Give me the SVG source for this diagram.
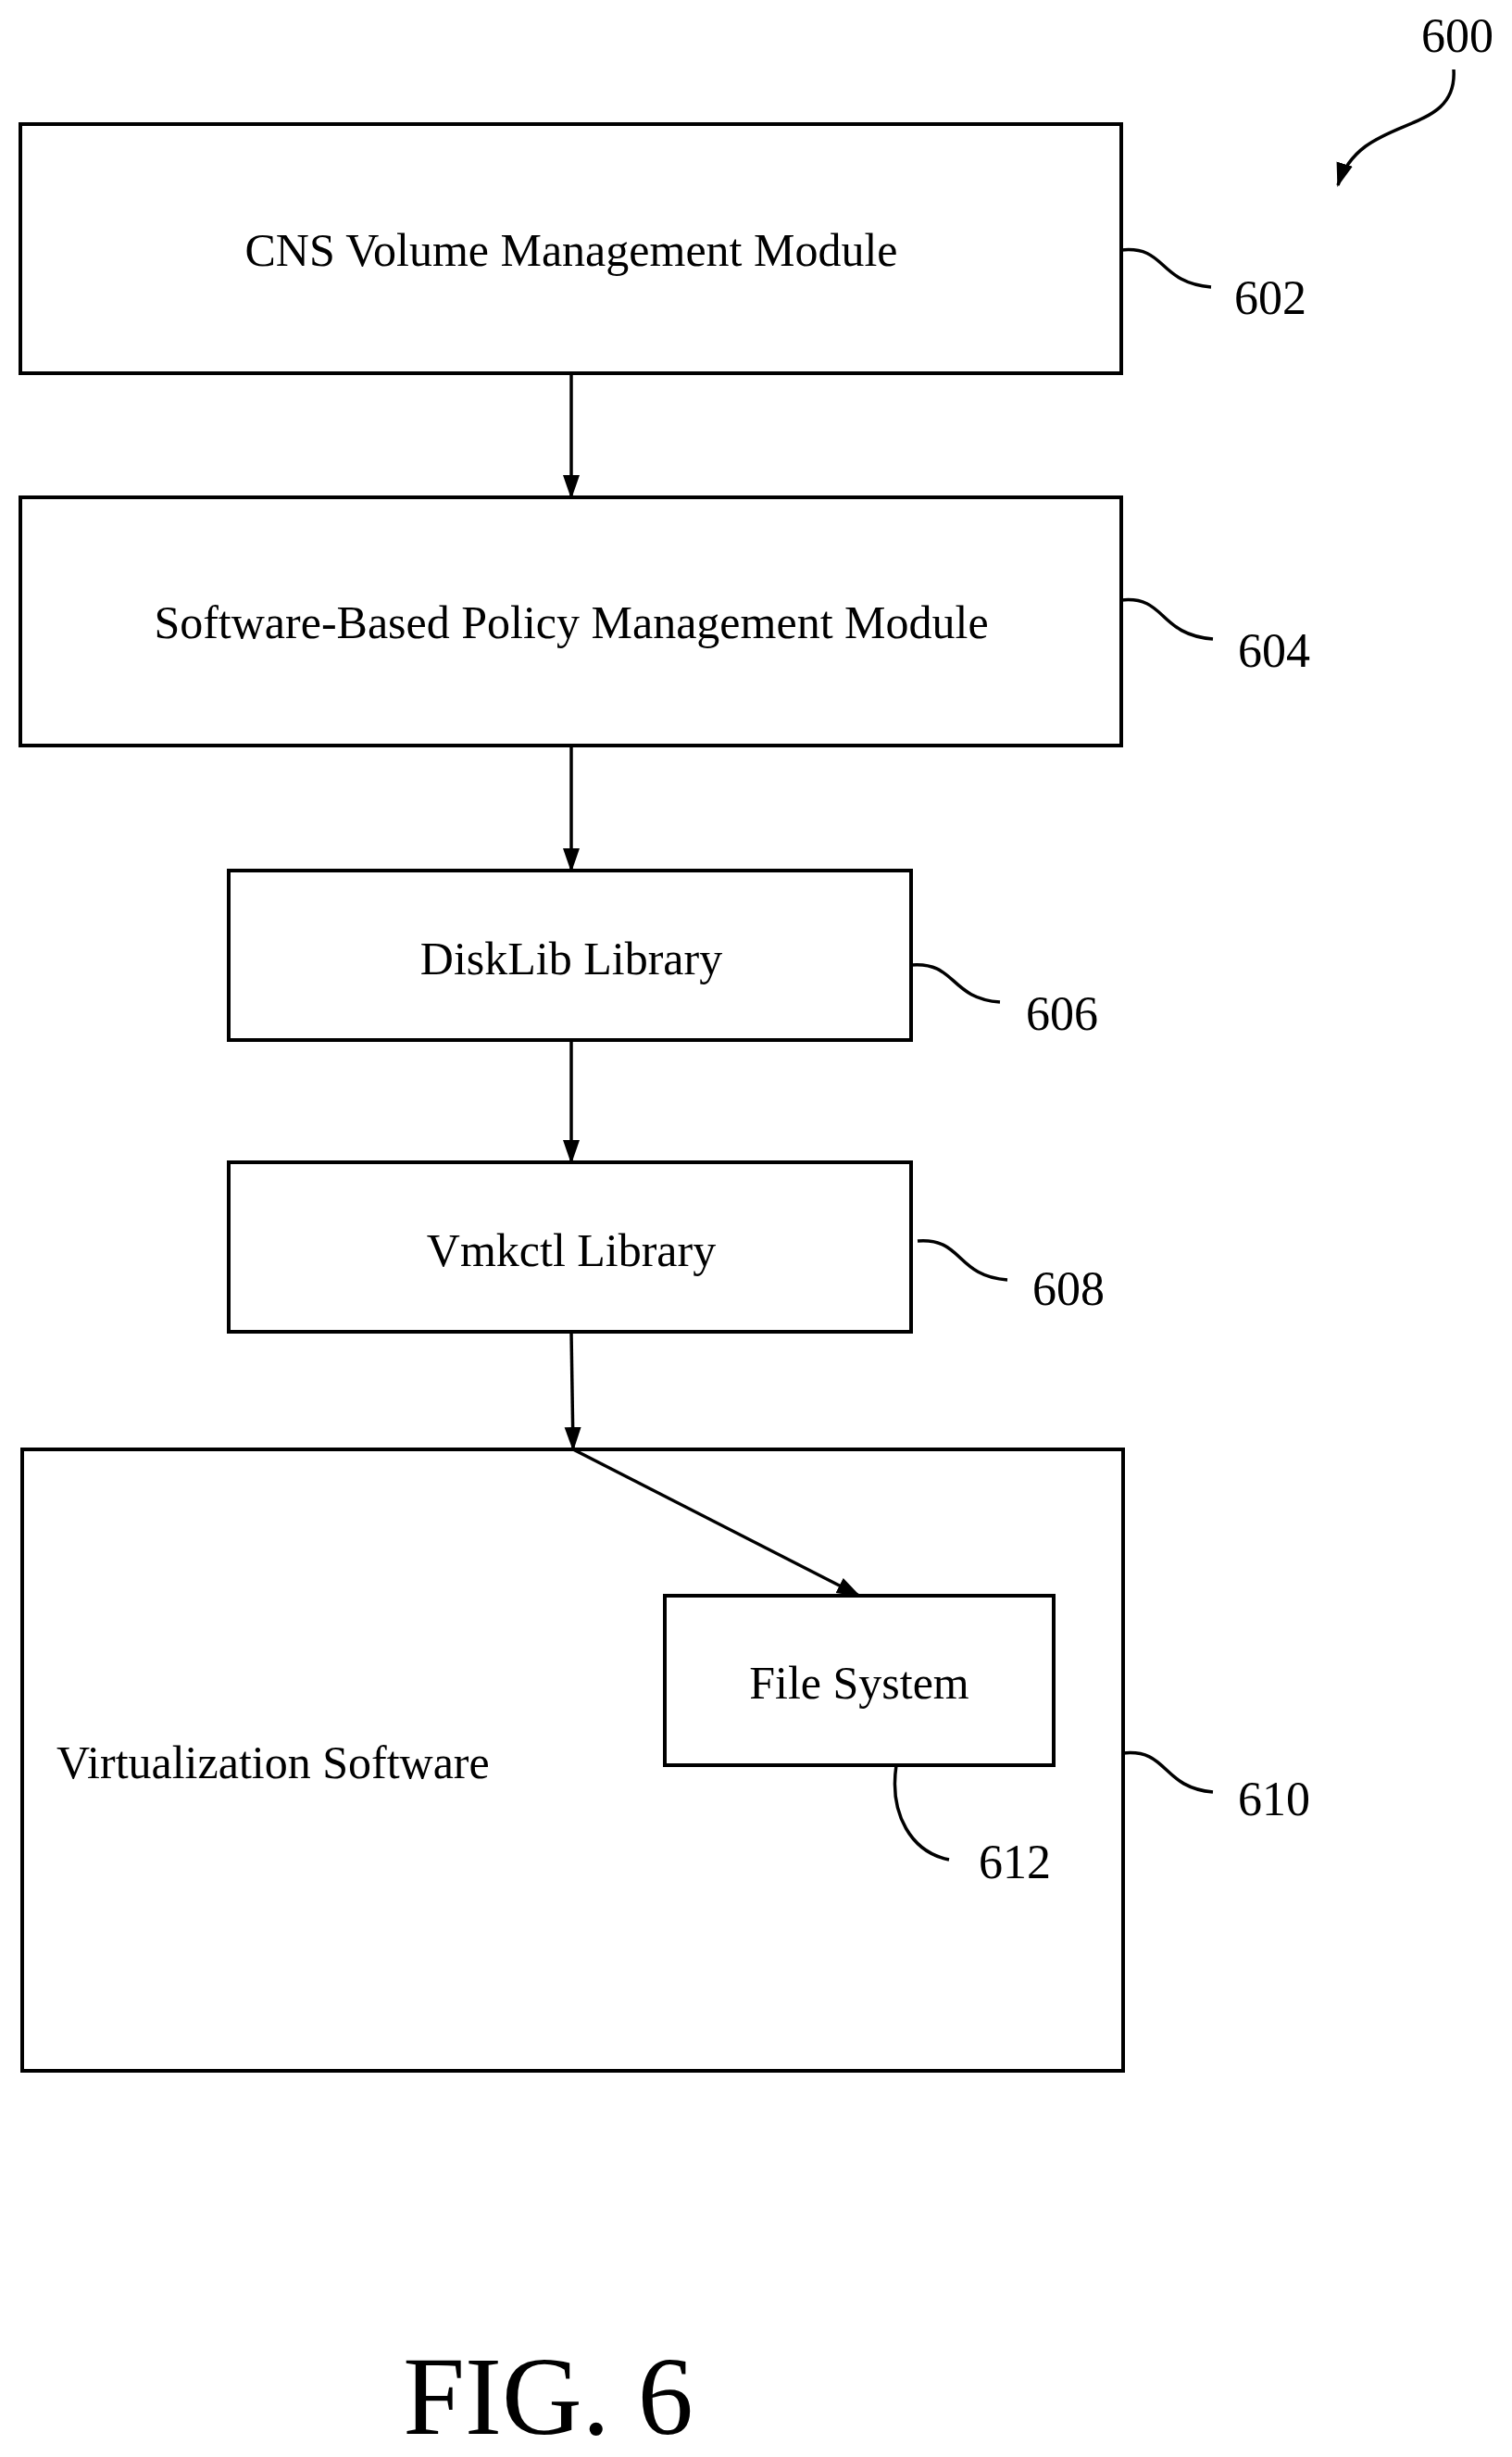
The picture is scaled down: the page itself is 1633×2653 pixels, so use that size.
<svg xmlns="http://www.w3.org/2000/svg" width="1633" height="2653" viewBox="0 0 1633 2653">
<style>
text{font-family:"Liberation Serif",serif;fill:#000}
.b{fill:none;stroke:#000;stroke-width:4}
.t{font-size:50px;text-anchor:middle}
.n{font-size:52px}
.l{fill:none;stroke:#000;stroke-width:3.5}
</style>
<defs><marker id="a" markerWidth="10" markerHeight="10" refX="9" refY="5" orient="auto" markerUnits="userSpaceOnUse" viewBox="0 0 10 10"><path d="M0,0 L10,5 L0,10 z"/></marker>
<marker id="m" markerWidth="26" markerHeight="26" refX="24" refY="13" orient="auto" markerUnits="userSpaceOnUse" viewBox="0 0 26 26"><path d="M0,4 L26,13 L0,22 z"/></marker></defs>
<rect width="1633" height="2653" fill="#fff"/>
<g id="n602"><rect class="b" x="22" y="134" width="1189" height="269"/><text class="t" x="617" y="287">CNS Volume Management Module</text></g>
<g id="n604"><rect class="b" x="22" y="537" width="1189" height="268"/><text class="t" x="617" y="689">Software-Based Policy Management Module</text></g>
<g id="n606"><rect class="b" x="247" y="940" width="737" height="183"/><text class="t" x="617" y="1052">DiskLib Library</text></g>
<g id="n608"><rect class="b" x="247" y="1255" width="737" height="183"/><text class="t" x="617" y="1367">Vmkctl Library</text></g>
<g id="n610"><rect class="b" x="24" y="1565" width="1189" height="671"/><text class="t" style="text-anchor:start" x="61" y="1920">Virtualization Software</text></g>
<g id="n612"><rect class="b" x="718" y="1723" width="420" height="183"/><text class="t" x="928" y="1834">File System</text></g>
<g id="connectors">
<path class="l" d="M617,403 V537" marker-end="url(#m)"/>
<path class="l" d="M617,805 V940" marker-end="url(#m)"/>
<path class="l" d="M617,1123 V1255" marker-end="url(#m)"/>
<path class="l" d="M617,1438 L619,1565" marker-end="url(#m)"/>
<path class="l" d="M619,1565 L928,1723" marker-end="url(#m)"/>
</g>
<g id="labels">
<path class="l" d="M1211,270 C1260,265 1250,305 1308,310"/>
<path class="l" d="M1211,648 C1260,643 1250,685 1310,690"/>
<path class="l" d="M984,1042 C1033,1038 1025,1078 1080,1082"/>
<path class="l" d="M991,1340 C1040,1336 1032,1378 1088,1382"/>
<path class="l" d="M1213,1893 C1262,1888 1254,1930 1310,1935"/>
<path class="l" d="M968,1906 C960,1960 985,2000 1025,2008"/>
<path class="l" d="M1570,75 C1575,150 1470,120 1445,200" marker-end="url(#m)"/>
<text class="n" x="1333" y="339">602</text>
<text class="n" x="1337" y="720">604</text>
<text class="n" x="1108" y="1112">606</text>
<text class="n" x="1115" y="1409">608</text>
<text class="n" x="1337" y="1960">610</text>
<text class="n" x="1057" y="2028">612</text>
<text class="n" x="1535" y="56">600</text>
<text x="592" y="2628" style="font-size:120px;text-anchor:middle">FIG. 6</text>
</g>
</svg>
